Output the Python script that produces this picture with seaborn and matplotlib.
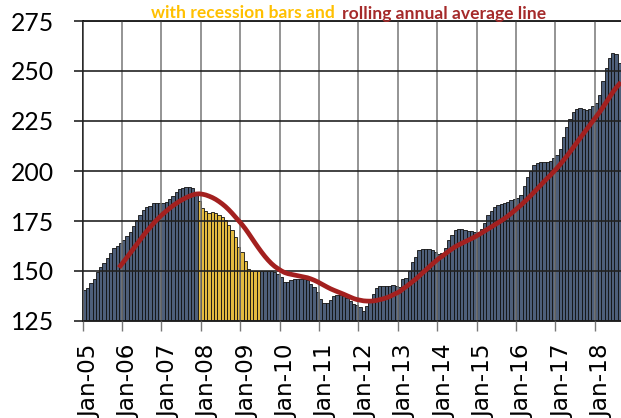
import matplotlib
matplotlib.use('Agg')
import matplotlib.pyplot as plt
import matplotlib.transforms as mtransforms
import seaborn as sns
import pandas as pd
import numpy as np

# Monthly index values, one list per year (Jan-05 .. Aug-18)
y2005 = [140.3, 141.5, 144.0, 146.0, 149.3, 151.8, 154.2, 156.7, 159.2, 161.3, 162.7, 164.2]
y2006 = [165.3, 167.7, 169.7, 172.5, 175.5, 177.8, 180.5, 181.8, 182.7, 183.8, 183.8, 183.8]
y2007 = [183.8, 184.7, 186.0, 187.7, 189.3, 190.8, 191.7, 191.8, 191.8, 191.3, 189.3, 185.0]
y2008 = [181.3, 180.2, 178.8, 179.3, 178.8, 178.0, 177.2, 175.5, 173.0, 170.5, 166.8, 162.2]
y2009 = [159.5, 155.0, 151.0, 149.8, 149.8, 149.8, 150.2, 150.2, 150.2, 150.2, 149.7, 148.5]
y2010 = [146.8, 144.7, 144.3, 145.7, 146.0, 146.0, 146.0, 146.0, 145.5, 143.5, 141.8, 139.3]
y2011 = [136.0, 133.8, 133.8, 135.7, 137.3, 138.2, 138.2, 137.7, 136.5, 135.2, 133.5, 133.0]
y2012 = [131.8, 130.2, 132.3, 135.2, 138.5, 141.3, 142.7, 142.7, 142.7, 142.7, 143.2, 142.3]
y2013 = [141.8, 146.0, 146.3, 150.2, 154.3, 156.8, 160.7, 160.8, 161.1, 160.8, 160.3, 159.5]
y2014 = [158.3, 159.0, 161.7, 165.4, 167.9, 170.5, 171.0, 171.0, 170.5, 170.1, 170.0, 169.6]
y2015 = [169.6, 170.8, 173.8, 178.0, 180.0, 182.2, 183.1, 183.6, 183.9, 184.4, 185.6, 185.9]
y2016 = [186.3, 188.1, 192.3, 196.9, 199.9, 202.8, 204.1, 204.5, 204.6, 204.6, 204.8, 206.6]
y2017 = [207.8, 211.2, 216.8, 221.8, 226.0, 229.4, 231.1, 231.4, 231.1, 230.7, 231.1, 232.5]
y2018 = [234.1, 238.1, 244.9, 251.6, 256.6, 259.2, 258.3, 253.8]

values = (y2005 + y2006 + y2007 + y2008 + y2009 + y2010 + y2011 +
          y2012 + y2013 + y2014 + y2015 + y2016 + y2017 + y2018)

months = pd.date_range('2005-01-01', periods=len(values), freq='MS')
recession_start = '2007-12-01'
recession_end = '2009-06-01'

df = pd.DataFrame({'month': months.strftime('%b-%y'), 'value': values})
df['period'] = np.where((months >= recession_start) & (months <= recession_end),
                        'Recession', 'Normal')
# rolling annual (12-month) average of the bars
df['rolling'] = df['value'].rolling(12).mean()
df['pos'] = np.arange(len(df))

W, H = 621, 418
fig = plt.figure(figsize=(W / 100, H / 100), dpi=100)
ax = fig.add_axes([82.7 / W, 97 / H, 1 - 82.7 / W, 300 / H])

sns.barplot(data=df, x='month', y='value', hue='period',
            palette={'Normal': '#465D82', 'Recession': '#FFC925'},
            dodge=False, width=1.0, edgecolor='#111111', linewidth=0.6,
            legend=False, ax=ax, zorder=1)

line_df = df.dropna(subset=['rolling'])
sns.lineplot(data=line_df, x='pos', y='rolling', color='#A3201F',
             linewidth=3.4, ax=ax, zorder=4)

ax.set_xlim(-0.5, len(df) - 0.5)
ax.set_ylim(125, 275)
ax.set_yticks(range(125, 276, 25))
ax.set_xticks(np.arange(0, len(df), 12) - 0.5)
ax.set_xticklabels(df['month'][::12], rotation=90, fontsize=16.7,
                   family='DejaVu Sans')
ax.set_xlabel('')
ax.set_ylabel('')

ax.set_axisbelow(False)
ax.grid(True, axis='y', color='#222222', linewidth=1.2)
ax.grid(True, axis='x', color='#777777', linewidth=1.1)

ax.spines['right'].set_visible(False)
for s in ['left', 'bottom', 'top']:
    ax.spines[s].set_color('black')
    ax.spines[s].set_linewidth(1.2)

ax.tick_params(axis='x', length=7.2, width=1.0, color='#777777', pad=9.5)
ax.tick_params(axis='y', length=6.8, width=1.2, color='#222222', pad=14,
               labelsize=17.8)
for lab in ax.get_yticklabels():
    lab.set_fontfamily('Lato')

offset = mtransforms.ScaledTranslation(7 / 100, 0, fig.dpi_scale_trans)
for lab in ax.get_xticklabels():
    lab.set_transform(lab.get_transform() + offset)

fig.text(335 / W, 1 - 13.5 / H, 'with recession bars and', ha='right', va='center',
         color='#FFC000', fontweight='bold', family='Lato', fontsize=12.6)
fig.text(342 / W, 1 - 13.5 / H, 'rolling annual average line', ha='left', va='center',
         color='#A52A2A', fontweight='bold', family='Lato', fontsize=12.6)

fig.savefig('out.png', dpi=100)
